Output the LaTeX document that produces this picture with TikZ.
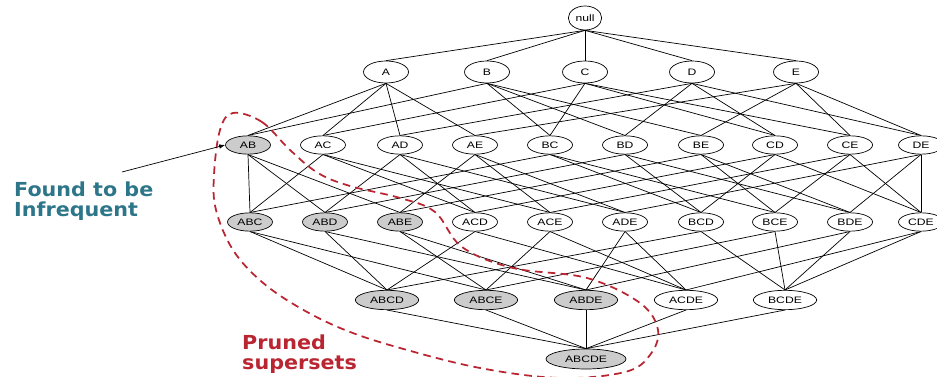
\documentclass[tikz,border=0pt]{standalone}
\usepackage{fontspec}
\newfontfamily\nodefont[FakeStretch=1.3]{Liberation Sans}
\newfontfamily\notefont[FakeStretch=1.07]{DejaVu Sans}
\usetikzlibrary{arrows.meta,shapes.geometric}
\pgfdeclarelayer{bg}
\pgfsetlayers{bg,main}
\definecolor{notecol}{RGB}{45,118,138}
\definecolor{prunecol}{RGB}{185,38,50}
\definecolor{infreq}{RGB}{204,204,204}

\begin{document}
\begin{tikzpicture}[
  x=0.03cm, y=-0.03cm,
  font=\nodefont\fontsize{8}{9}\selectfont,
  item/.style={draw, ellipse, line width=0.6pt, fill=white, inner sep=0pt,
    minimum width=1.35cm, minimum height=0.55cm},
  pruned/.style={item, fill=infreq},
  single/.style={minimum height=0.66cm},
  quad/.style={minimum width=1.9cm, minimum height=0.58cm},
  link/.style={line width=0.6pt},
  note/.style={font=\notefont\bfseries\fontsize{16.5}{17}\selectfont, align=left,
    anchor=north west, inner sep=0pt},
  arrow/.style={-{Latex[length=1.8mm]}, line width=0.6pt}
]
\useasboundingbox (0,0) rectangle (937,377);

% lattice nodes
\node[item, minimum width=1.0cm, minimum height=0.72cm] (null) at (585,18) {null};

\node[item, single] (A) at (386,72) {A};
\node[item, single] (B) at (487,72) {B};
\node[item, single] (C) at (585,72) {C};
\node[item, single] (D) at (692,72) {D};
\node[item, single] (E) at (796,72) {E};

\node[pruned] (AB) at (248,145) {AB};
\node[item] (AC) at (323,145) {AC};
\node[item] (AD) at (400,145) {AD};
\node[item] (AE) at (475,145) {AE};
\node[item] (BC) at (550,145) {BC};
\node[item] (BD) at (625,145) {BD};
\node[item] (BE) at (701,145) {BE};
\node[item] (CD) at (775,145) {CD};
\node[item] (CE) at (850,145) {CE};
\node[item] (DE) at (921,145) {DE};

\node[pruned] (ABC) at (250,222) {ABC};
\node[pruned] (ABD) at (325,222) {ABD};
\node[pruned] (ABE) at (400,222) {ABE};
\node[item] (ACD) at (475,222) {ACD};
\node[item] (ACE) at (550,222) {ACE};
\node[item] (ADE) at (625,222) {ADE};
\node[item] (BCD) at (701,222) {BCD};
\node[item] (BCE) at (775,222) {BCE};
\node[item] (BDE) at (850,222) {BDE};
\node[item] (CDE) at (921,222) {CDE};

\node[pruned, quad] (ABCD) at (387,300) {ABCD};
\node[pruned, quad] (ABCE) at (486,300) {ABCE};
\node[pruned, quad] (ABDE) at (586,300) {ABDE};
\node[item, quad] (ACDE) at (686,300) {ACDE};
\node[item, quad] (BCDE) at (785,300) {BCDE};

\node[pruned, minimum width=2.4cm, minimum height=0.6cm] (ABCDE) at (586,359) {ABCDE};

% subset links
\begin{pgfonlayer}{bg}
\foreach \c in {A,B,C,D,E}
  \draw[link] (null.south) -- (\c.north);
\foreach \c/\ps in {AB/{A,B}, AC/{A,C}, AD/{A,D}, AE/{A,E}, BC/{B,C},
    BD/{B,D}, BE/{B,E}, CD/{C,D}, CE/{C,E}, DE/{D,E},
    ABC/{AB,AC,BC}, ABD/{AB,AD,BD}, ABE/{AB,AE,BE}, ACD/{AC,AD,CD},
    ACE/{AC,AE,CE}, ADE/{AD,AE,DE}, BCD/{BC,BD,CD}, BCE/{BC,BE,CE},
    BDE/{BD,BE,DE}, CDE/{CD,CE,DE},
    ABCD/{ABC,ABD,ACD,BCD}, ABCE/{ABC,ABE,ACE,BCE}, ABDE/{ABD,ABE,ADE,BDE},
    ACDE/{ACD,ACE,ADE,CDE}, BCDE/{BCD,BCE,BDE,CDE},
    ABCDE/{ABCD,ABCE,ABDE,ACDE,BCDE}}
  \foreach \p in \ps
    \draw[link] (\p.south) -- (\c.north);
\end{pgfonlayer}

% pruned region
\draw[prunecol, line width=1.5pt, dash pattern=on 6.5pt off 4.5pt]
  plot[smooth cycle, tension=0.6] coordinates {
    (233,113) (262,122) (290,150) (318,173) (350,186) (400,198) (435,212)
    (462,247) (513,268) (587,278) (640,303) (658,330) (650,355) (625,372)
    (560,378) (480,368) (400,348) (345,330) (300,308) (262,282) (233,250)
    (216,210) (214,175) (220,130)};

% labels
\node[note, text=notecol] (found) at (14,182) {Found to be\\Infrequent};
\coordinate (tail) at (122,172);
\draw[arrow] (tail) -- (AB.west);

\node[note, text=prunecol] (prune) at (242,335) {Pruned\\supersets};

\end{tikzpicture}
\end{document}
